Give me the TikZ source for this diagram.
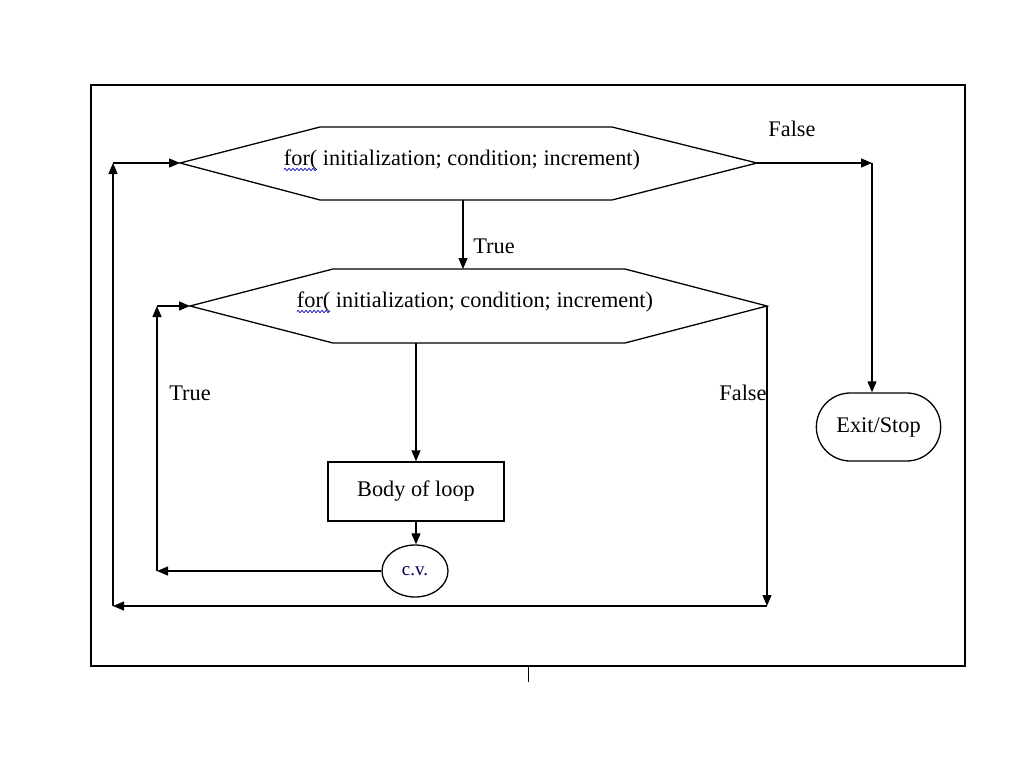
\documentclass[tikz,border=0pt]{standalone}
\usepackage{fontspec}
\setmainfont{Liberation Serif}
\usetikzlibrary{arrows.meta,shapes.misc,shapes.geometric,decorations.pathmorphing,calc}
\begin{document}
\begin{tikzpicture}[x=1pt,y=-1pt,
  ln/.style={line width=1.3pt},
  arr/.style={line width=1.3pt,-{Triangle[length=11pt,width=9pt]}},
  txt/.style={font=\fontsize{22.3}{26}\selectfont, inner sep=0pt},
  hexa/.style={line width=1.3pt, fill=white},
  boxn/.style={draw, line width=1.3pt, minimum width=176pt, minimum height=59pt, font=\fontsize{22.3}{26}\selectfont},
  ovaln/.style={draw, ellipse, line width=1.3pt, minimum width=66pt, minimum height=52pt, inner sep=0pt},
  termn/.style={draw, rounded rectangle, line width=1.3pt, minimum width=131pt, minimum height=68pt, font=\fontsize{22.3}{26}\selectfont},
  wavy/.style={draw=blue!70!black, line width=0.7pt, decorate, decoration={snake, amplitude=1.2pt, segment length=4pt}}
]
\useasboundingbox (0,0) rectangle (1024,768);
\fill[white] (0,0) rectangle (1024,768);
% frame
\draw[line width=1.4pt] (91,85) rectangle (965,666);
\coordinate (tk1) at (528,666);
\coordinate (tk2) at (528,682);
\draw[line width=1pt] (tk1) -- (tk2);

% outer hexagon
\coordinate (h1l) at (180,163);
\coordinate (h1r) at (757,163);
\coordinate (h1b) at (463,200);
\draw[hexa] (h1l) -- (320,127) -- (612,127) -- (h1r) -- (612,200) -- (320,200) -- cycle;
\node[txt] (t1) at (462,160) {for( initialization; condition; increment)};
\draw[wavy] ($(t1.base west)+(0,4)$) -- ++(33,0);

% inner hexagon
\coordinate (h2l) at (190,306);
\coordinate (h2r) at (767,306);
\coordinate (h2t) at (463,269);
\coordinate (h2b) at (416,343);
\draw[hexa] (h2l) -- (333,269) -- (625,269) -- (h2r) -- (625,343) -- (333,343) -- cycle;
\node[txt] (t2) at (475,302) {for( initialization; condition; increment)};
\draw[wavy] ($(t2.base west)+(0,4)$) -- ++(33,0);

% body, cv, exit
\node[boxn] (body) at (416,491.5) {Body of loop};
\node[ovaln] (cv) at (415,571) {\fontsize{19}{21}\selectfont\color{blue!35!black}c.v.};
\node[termn] (exit) at (878.5,427) {Exit/Stop};

% turning points
\coordinate (c1) at (767,606);
\coordinate (c2) at (113,606);
\coordinate (c3) at (113,163);
\coordinate (d1) at (157,571);
\coordinate (d2) at (157,306);
\coordinate (e1) at (872,163);

% connectors
\draw[arr] (h1b) -- (h2t);
\draw[arr] (h2b) -- (body.north);
\draw[arr] (body.south) -- (body.south |- cv.north);
\draw[arr] (cv.west) -- (d1);
\draw[arr] (d1) -- (d2);
\draw[arr] (d2) -- (h2l);
\draw[arr] (h2r) -- (c1);
\draw[arr] (c1) -- (c2);
\draw[arr] (c2) -- (c3);
\draw[arr] (c3) -- (h1l);
\draw[arr] (h1r) -- (e1);
\draw[arr] (e1) -- (e1 |- exit.north);

% labels
\node[txt] (lf1) at (792,129) {False};
\node[txt] (lt1) at (494,246) {True};
\node[txt] (lt2) at (190,393) {True};
\node[txt] (lf2) at (743,393) {False};
\end{tikzpicture}
\end{document}
